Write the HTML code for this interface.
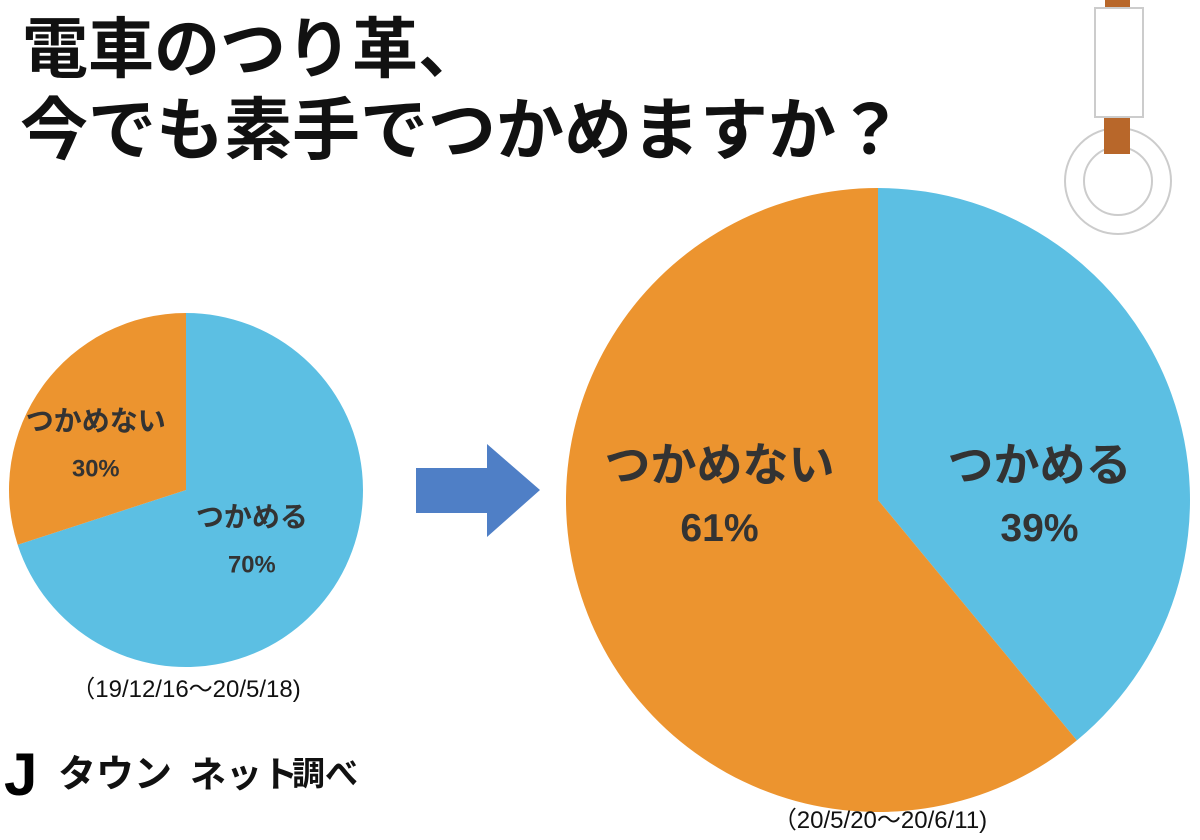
<!DOCTYPE html>
<html><head><meta charset="utf-8"><style>
html,body{margin:0;padding:0;background:#fff;width:1200px;height:840px;overflow:hidden}
svg{display:block}
text{font-family:"Liberation Sans","Noto Sans CJK JP",sans-serif}
</style></head><body>
<svg id="c" width="1200" height="840" viewBox="0 0 1200 840">
<text x="22" y="72" font-size="66" font-weight="bold" fill="#111">電車のつり革、</text>
<text x="20" y="154" font-size="68" font-weight="bold" fill="#111">今でも素手でつかめますか？</text>
<g>
<rect x="1105" y="0" width="25" height="10" fill="#b8672a"/>
<rect x="1095" y="8" width="48" height="109" fill="#fff" stroke="#ccc" stroke-width="2"/>
<circle cx="1118" cy="181" r="53" fill="none" stroke="#ccc" stroke-width="2"/>
<circle cx="1118" cy="181" r="34" fill="none" stroke="#ccc" stroke-width="2"/>
<rect x="1104" y="118" width="26" height="36" fill="#b8672a"/>
</g>
<g id="pies"></g>
<polygon points="416,468 487,468 487,444 540,490 487,537 487,513 416,513" fill="#4f7fc6"/>
<text x="186" y="697" font-size="24" text-anchor="middle" fill="#111">（19/12/16～20/5/18)</text>
<text x="880" y="828" font-size="24" text-anchor="middle" fill="#111">（20/5/20～20/6/11)</text>
<g>
<text x="4" y="795" font-size="60" font-weight="bold" fill="#000">J</text>
<text x="58" y="787" font-size="38" font-weight="bold" fill="#111">タウン</text>
<text x="190" y="787" font-size="36" font-weight="bold" fill="#111">ネット</text>
<text x="292" y="785" font-size="33" font-weight="bold" fill="#111">調べ</text>
</g>
</svg>
<script>
const categories = ["つかめる", "つかめない"];
const beforeValues = [70, 30];
const afterValues = [39, 61];
const colors = ["#5cbfe3", "#ec942f"];
const NS = "http://www.w3.org/2000/svg";
const g = document.getElementById("pies");
function pt(cx, cy, r, frac){const a = frac*2*Math.PI; return [cx + r*Math.sin(a), cy - r*Math.cos(a)];}
function drawPie(vals, cx, cy, r, name, fs, gap, ks, yFix, dys){
  const tot = vals.reduce((a,b)=>a+b,0);
  let start = 0;
  vals.forEach((v,i)=>{
    const f = v/tot;
    const s = start, e = start + f;
    const p1 = pt(cx,cy,r,s), p2 = pt(cx,cy,r,e);
    const path = document.createElementNS(NS,"path");
    path.setAttribute("d", `M${cx},${cy} L${p1[0]},${p1[1]} A${r},${r} 0 ${f>0.5?1:0} 1 ${p2[0]},${p2[1]} Z`);
    path.setAttribute("fill", colors[i]);
    
    
    g.appendChild(path);
    const m = pt(cx,cy,r*ks[i],(s+e)/2);
    const my = (yFix !== null ? yFix : m[1]) + dys[i];
    const t1 = document.createElementNS(NS,"text");
    t1.setAttribute("x", m[0]); t1.setAttribute("y", my - gap/2 + fs*0.35);
    t1.setAttribute("text-anchor","middle"); t1.setAttribute("font-size",fs);
    t1.setAttribute("font-weight","bold"); t1.setAttribute("fill","#333");
    t1.textContent = categories[i];
    
    
    g.appendChild(t1);
    const t2 = document.createElementNS(NS,"text");
    t2.setAttribute("x", m[0]); t2.setAttribute("y", my + gap/2 + fs*0.35);
    t2.setAttribute("text-anchor","middle"); t2.setAttribute("font-size",fs*0.85);
    t2.setAttribute("font-weight","bold"); t2.setAttribute("fill","#333");
    t2.textContent = v + "%";
    
    
    g.appendChild(t2);
    start = e;
  });
}
drawPie(beforeValues, 186, 490, 177, "before-pie", 28, 46, [0.46, 0.63], null, [2, 19]);
drawPie(afterValues, 878, 500, 312, "after-pie", 46, 60, [0.55, 0.54], 495, [0, 0]);
</script>
</body></html>
